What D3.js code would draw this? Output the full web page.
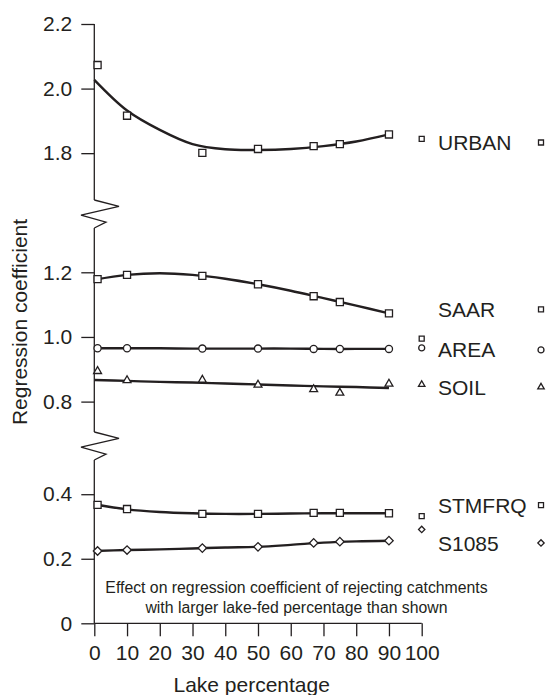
<!DOCTYPE html>
<html><head><meta charset="utf-8">
<script src="https://cdn.jsdelivr.net/npm/d3@7"></script>
<style>
html,body{margin:0;padding:0;background:#fff;}
text{font-family:"Liberation Sans",Arial,Helvetica,sans-serif;fill:#231f20;}
</style></head>
<body>
<script>
// ---- data ----
const lakePct = [1, 10, 33, 50, 67, 75, 90];
const urban  = [2.073, 1.916, 1.801, 1.813, 1.822, 1.828, 1.858];
const saar   = [1.179, 1.192, 1.189, 1.163, 1.126, 1.108, 1.073];
const area   = [0.965, 0.965, 0.964, 0.964, 0.963, 0.963, 0.963];
const soil   = [0.894, 0.866, 0.867, 0.852, 0.838, 0.827, 0.855];
const stmfrq = [0.367, 0.354, 0.339, 0.339, 0.342, 0.342, 0.341];
const s1085  = [0.224, 0.227, 0.233, 0.237, 0.249, 0.253, 0.256];

// fitted curves
const fitX      = [0, 10, 20, 30, 40, 50, 60, 70, 80, 90];
const urbanFit  = [2.027, 1.932, 1.872, 1.828, 1.812, 1.810, 1.813, 1.822, 1.836, 1.858];
const saarFit   = [1.177, 1.192, 1.197, 1.192, 1.180, 1.163, 1.143, 1.120, 1.097, 1.073];
const areaFit   = [0.965, 0.965, 0.965, 0.964, 0.964, 0.964, 0.964, 0.963, 0.963, 0.963];
const soilFit   = [0.867, 0.864, 0.861, 0.859, 0.856, 0.853, 0.850, 0.847, 0.845, 0.842];
const stmfrqFit = [0.369, 0.353, 0.345, 0.341, 0.339, 0.339, 0.340, 0.341, 0.341, 0.341];
const s1085Fit  = [0.224, 0.227, 0.229, 0.232, 0.235, 0.237, 0.243, 0.250, 0.254, 0.256];

// stray points at 100 %
const extraX      = 100;
const extraNames  = ["URBAN", "SAAR", "AREA", "SOIL", "STMFRQ", "S1085"];
const extraValues = [1.844, 0.995, 0.966, 0.853, 0.332, 0.291];

// legend
const legendNames  = ["URBAN", "SAAR", "AREA", "SOIL", "STMFRQ", "S1085"];
const legendLevels = [1.833, 1.085, 0.960, 0.845, 0.366, 0.249];

const xTicks = [0, 10, 20, 30, 40, 50, 60, 70, 80, 90, 100];
const yTicks = [0, 0.2, 0.4, 0.8, 1.0, 1.2, 1.8, 2.0, 2.2];
const yTickLabels = ["0", "0.2", "0.4", "0.8", "1.0", "1.2", "1.8", "2.0", "2.2"];
// broken axis: segment ends
const yBreaks = [0, 0.506, 0.706, 1.337, 1.655, 2.2];

// ---- layout ----
const W = 548, H = 695;
const svg = d3.select("body").append("svg").attr("width", W).attr("height", H);
const x = d3.scaleLinear().domain([0, 100]).range([94.3, 421.7]);
const y = d3.scaleLinear().domain(yBreaks).range([623.3, 460, 432, 228, 200, 24]);

const ink = "#231f20";
const shapes = {
  URBAN: "square", SAAR: "square", AREA: "circle", SOIL: "triangle", STMFRQ: "square", S1085: "diamond"
};
function sym(kind, small) {
  if (kind === "square") return d3.symbol(d3.symbolSquare, small ? 25 : 50)();
  if (kind === "circle") return d3.symbol(d3.symbolCircle, small ? 28 : 40)();
  if (kind === "triangle") return d3.symbol(d3.symbolTriangle, small ? 18 : 27)();
  if (kind === "diamond") return d3.symbol(d3.symbolSquare, small ? 20 : 36)();
}
function drawMarker(g, kind, px, py, small) {
  g.append("path").attr("d", sym(kind, small))
    .attr("transform", `translate(${px},${py})` + (kind === "diamond" ? " rotate(45)" : ""))
    .attr("fill", "#fff").attr("stroke", ink).attr("stroke-width", 1.3);
}

// ---- axes ----
const yAxis = d3.axisLeft(y).tickValues(yTicks).tickSize(13).tickPadding(9)
  .tickFormat((d, i) => yTickLabels[i]);
const gy = svg.append("g").attr("transform", `translate(${x(0)},0)`).call(yAxis);
gy.select(".domain").remove();
gy.selectAll(".tick line").attr("stroke", ink).attr("stroke-width", 1.3);
gy.selectAll(".tick text").style("font-size", "21px").attr("fill", ink);

// spine segments and zigzags
const x0 = x(0);
const spine = d3.line();
const pairs = [[yBreaks[0], yBreaks[1]], [yBreaks[2], yBreaks[3]], [yBreaks[4], yBreaks[5]]];
pairs.forEach(p => {
  svg.append("path").attr("d", spine([[x0, y(p[0])], [x0, y(p[1])]]))
    .attr("stroke", ink).attr("stroke-width", 1.3).attr("fill", "none");
});
[[yBreaks[1], yBreaks[2]], [yBreaks[3], yBreaks[4]]].forEach(p => {
  const yb = y(p[0]), yt = y(p[1]), h = yb - yt;
  const pts = [[x0, yt], [x0 + 24.7, yt + 0.23 * h], [x0 - 13.3, yt + 0.54 * h], [x0 + 11.7, yt + 0.79 * h], [x0, yb]];
  svg.append("path").attr("d", spine(pts))
    .attr("stroke", ink).attr("stroke-width", 1.3).attr("fill", "none").attr("stroke-linejoin", "miter");
});

const xAxis = d3.axisBottom(x).tickValues(xTicks).tickSize(13).tickPadding(8.7).tickFormat(d3.format("d"));
const gx = svg.append("g").attr("transform", `translate(0,${y(0)})`).call(xAxis);
gx.select(".domain").attr("stroke", ink).attr("stroke-width", 1.3).attr("d", `M${x(0)},0H${x(100)}`);
gx.selectAll(".tick line").attr("stroke", ink).attr("stroke-width", 1.3);
gx.selectAll(".tick text").style("font-size", "21px").attr("fill", ink);

// axis titles
svg.append("text").attr("x", 251.7).attr("y", 692).attr("text-anchor", "middle")
  .style("font-size", "21px").text("Lake percentage");
svg.append("text").attr("transform", "translate(27,322) rotate(-90)").attr("text-anchor", "middle")
  .style("font-size", "21px").text("Regression coefficient");

// annotation
svg.append("text").attr("x", 296.5).attr("y", 592.7).attr("text-anchor", "middle")
  .style("font-size", "15.8px").text("Effect on regression coefficient of rejecting catchments");
svg.append("text").attr("x", 296.5).attr("y", 612.7).attr("text-anchor", "middle")
  .style("font-size", "15.8px").text("with larger lake-fed percentage than shown");

// ---- curves ----
const line = d3.line().x(d => x(d[0])).y(d => y(d[1])).curve(d3.curveCatmullRom);
const fits = [urbanFit, saarFit, areaFit, soilFit, stmfrqFit, s1085Fit];
fits.forEach(f => {
  svg.append("path").attr("d", line(fitX.map((v, i) => [v, f[i]])))
    .attr("fill", "none").attr("stroke", ink).attr("stroke-width", 2.4);
});

// ---- markers ----
const seriesNames = ["URBAN", "SAAR", "AREA", "SOIL", "STMFRQ", "S1085"];
const seriesVals = [urban, saar, area, soil, stmfrq, s1085];
const gm = svg.append("g");
seriesVals.forEach((vals, si) => {
  vals.forEach((v, i) => drawMarker(gm, shapes[seriesNames[si]], x(lakePct[i]), y(v), false));
});
extraValues.forEach((v, i) => drawMarker(gm, shapes[extraNames[i]], x(extraX), y(v), true));

// ---- legend ----
legendNames.forEach((n, i) => {
  svg.append("text").attr("x", 438).attr("y", y(legendLevels[i])).attr("dy", "0.36em")
    .style("font-size", "21px").text(n);
  drawMarker(svg, shapes[n], 541, y(legendLevels[i]), true);
});
</script>
</body></html>
